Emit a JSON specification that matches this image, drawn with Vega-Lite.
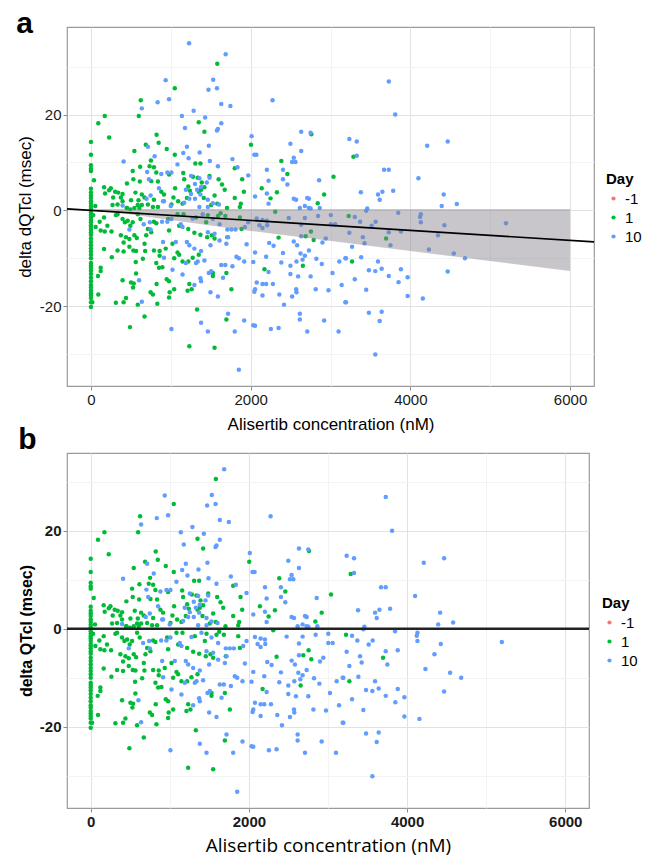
{
"$schema": "https://vega.github.io/schema/vega-lite/v6.json",
"background": "white",
"padding": {"left": 15, "top": 8, "right": 0, "bottom": 0},
"spacing": -9,
"config": {
  "font": "Liberation Sans",
  "view": {"stroke": "#9a9a9a", "strokeWidth": 1.2},
  "axis": {"domain": false, "tickColor": "#8a8a8a", "tickSize": 4, "labelColor": "#1a1a1a", "labelFontSize": 15, "labelPadding": 2, "titleColor": "#000000", "titleFontSize": 17, "titleFontWeight": "normal", "labelFlush": false},
  "legend": {"titleFontSize": 15, "titleFontWeight": "bold", "titleColor": "#000000", "labelFontSize": 15, "labelColor": "#000000", "symbolType": "circle", "symbolSize": 18, "rowPadding": 3, "titlePadding": 4}
},
"datasets": {
  "pts": [
{"c":0,"q":0,"Day":"-1"},
{"c":0,"q":14.3,"Day":"1"},{"c":0,"q":11.6,"Day":"1"},{"c":0,"q":9.4,"Day":"1"},{"c":0,"q":8.7,"Day":"1"},{"c":0,"q":8.2,"Day":"1"},{"c":0,"q":4.5,"Day":"1"},{"c":0,"q":3.7,"Day":"1"},{"c":0,"q":3.1,"Day":"1"},{"c":0,"q":2.6,"Day":"1"},{"c":0,"q":1.9,"Day":"1"},{"c":0,"q":1.4,"Day":"1"},{"c":0,"q":0.8,"Day":"1"},{"c":0,"q":0.3,"Day":"1"},
{"c":92,"q":18.2,"Day":"1"},{"c":173,"q":19.7,"Day":"1"},{"c":228,"q":15.2,"Day":"1"},{"c":38,"q":6.3,"Day":"1"},{"c":54,"q":0.9,"Day":"1"},{"c":164,"q":4.8,"Day":"1"},{"c":177,"q":3.5,"Day":"1"},{"c":228,"q":4.2,"Day":"1"},{"c":249,"q":4.6,"Day":"1"},{"c":303,"q":3.9,"Day":"1"},{"c":341,"q":3.7,"Day":"1"},{"c":278,"q":2.7,"Day":"1"},{"c":375,"q":2.7,"Day":"1"},{"c":396,"q":3.4,"Day":"1"},{"c":396,"q":1.9,"Day":"1"},{"c":270,"q":1.1,"Day":"1"},{"c":333,"q":1.2,"Day":"1"},{"c":447,"q":0.5,"Day":"1"},{"c":624,"q":23.0,"Day":"1"},{"c":599,"q":19.7,"Day":"1"},{"c":822,"q":15.8,"Day":"1"},{"c":848,"q":14.1,"Day":"1"},{"c":687,"q":13.7,"Day":"1"},{"c":544,"q":12.4,"Day":"1"},{"c":751,"q":10.4,"Day":"1"},{"c":734,"q":9.2,"Day":"1"},{"c":616,"q":9.1,"Day":"1"},{"c":523,"q":8.2,"Day":"1"},{"c":789,"q":9.0,"Day":"1"},{"c":818,"q":7.9,"Day":"1"},{"c":451,"q":5.6,"Day":"1"},{"c":531,"q":6.5,"Day":"1"},{"c":612,"q":6.0,"Day":"1"},{"c":755,"q":6.1,"Day":"1"},{"c":839,"q":6.0,"Day":"1"},{"c":557,"q":3.7,"Day":"1"},{"c":502,"q":2.1,"Day":"1"},{"c":595,"q":2.1,"Day":"1"},{"c":637,"q":3.3,"Day":"1"},{"c":671,"q":2.7,"Day":"1"},{"c":637,"q":1.1,"Day":"1"},{"c":586,"q":1.1,"Day":"1"},{"c":713,"q":1.2,"Day":"1"},{"c":789,"q":2.2,"Day":"1"},{"c":881,"q":3.9,"Day":"1"},{"c":839,"q":0.7,"Day":"1"},{"c":776,"q":0.7,"Day":"1"},{"c":451,"q":0.5,"Day":"1"},{"c":544,"q":0.5,"Day":"1"},{"c":607,"q":0.5,"Day":"1"},{"c":493,"q":0.2,"Day":"1"},
{"c":0,"q":-0.5,"Day":"1"},{"c":0,"q":-1.0,"Day":"1"},{"c":0,"q":-1.5,"Day":"1"},{"c":0,"q":-2.0,"Day":"1"},{"c":0,"q":-2.5,"Day":"1"},{"c":0,"q":-3.1,"Day":"1"},{"c":0,"q":-3.5,"Day":"1"},{"c":0,"q":-4.0,"Day":"1"},{"c":0,"q":-4.6,"Day":"1"},{"c":0,"q":-5.1,"Day":"1"},{"c":0,"q":-5.9,"Day":"1"},{"c":0,"q":-6.6,"Day":"1"},{"c":0,"q":-7.3,"Day":"1"},{"c":0,"q":-8.0,"Day":"1"},{"c":0,"q":-8.6,"Day":"1"},{"c":0,"q":-9.3,"Day":"1"},{"c":0,"q":-10.0,"Day":"1"},{"c":0,"q":-11.0,"Day":"1"},{"c":0,"q":-11.5,"Day":"1"},{"c":0,"q":-12.0,"Day":"1"},{"c":0,"q":-12.6,"Day":"1"},{"c":0,"q":-13.3,"Day":"1"},{"c":0,"q":-14.1,"Day":"1"},{"c":0,"q":-14.8,"Day":"1"},{"c":0,"q":-15.6,"Day":"1"},{"c":0,"q":-16.1,"Day":"1"},{"c":0,"q":-16.8,"Day":"1"},{"c":0,"q":-17.3,"Day":"1"},{"c":0,"q":-17.8,"Day":"1"},{"c":0,"q":-18.3,"Day":"1"},{"c":0,"q":-19.2,"Day":"1"},{"c":0,"q":-20.2,"Day":"1"},
{"c":29,"q":-1.0,"Day":"1"},{"c":109,"q":-2.4,"Day":"1"},{"c":164,"q":-1.5,"Day":"1"},{"c":59,"q":-3.5,"Day":"1"},{"c":122,"q":-4.2,"Day":"1"},{"c":173,"q":-4.4,"Day":"1"},{"c":206,"q":-3.2,"Day":"1"},{"c":257,"q":-4.4,"Day":"1"},{"c":312,"q":-1.0,"Day":"1"},{"c":333,"q":-0.8,"Day":"1"},{"c":396,"q":-1.8,"Day":"1"},{"c":426,"q":-2.5,"Day":"1"},{"c":460,"q":-2.2,"Day":"1"},{"c":375,"q":-5.2,"Day":"1"},{"c":409,"q":-6.7,"Day":"1"},{"c":439,"q":-5.6,"Day":"1"},{"c":481,"q":-6.0,"Day":"1"},{"c":544,"q":-5.2,"Day":"1"},{"c":574,"q":-5.8,"Day":"1"},{"c":493,"q":-3.2,"Day":"1"},{"c":523,"q":-2.5,"Day":"1"},{"c":586,"q":-0.8,"Day":"1"},{"c":620,"q":-1.8,"Day":"1"},{"c":692,"q":-5.2,"Day":"1"},{"c":671,"q":-7.0,"Day":"1"},{"c":713,"q":-3.9,"Day":"1"},{"c":755,"q":-4.6,"Day":"1"},{"c":789,"q":-2.4,"Day":"1"},{"c":818,"q":-2.7,"Day":"1"},{"c":164,"q":-8.1,"Day":"1"},{"c":333,"q":-8.4,"Day":"1"},{"c":409,"q":-8.6,"Day":"1"},{"c":481,"q":-7.6,"Day":"1"},{"c":531,"q":-8.4,"Day":"1"},{"c":565,"q":-8.5,"Day":"1"},{"c":679,"q":-8.5,"Day":"1"},{"c":789,"q":-8.4,"Day":"1"},{"c":860,"q":-8.5,"Day":"1"},{"c":860,"q":-9.5,"Day":"1"},{"c":650,"q":-10.1,"Day":"1"},{"c":561,"q":-10.8,"Day":"1"},{"c":818,"q":-11.0,"Day":"1"},{"c":261,"q":-9.8,"Day":"1"},{"c":122,"q":-12.0,"Day":"1"},{"c":122,"q":-12.7,"Day":"1"},{"c":88,"q":-13.7,"Day":"1"},{"c":565,"q":-13.2,"Day":"1"},{"c":396,"q":-14.6,"Day":"1"},{"c":502,"q":-15.1,"Day":"1"},{"c":536,"q":-15.3,"Day":"1"},{"c":527,"q":-16.1,"Day":"1"},{"c":822,"q":-15.4,"Day":"1"},{"c":747,"q":-17.1,"Day":"1"},{"c":776,"q":-17.6,"Day":"1"},{"c":92,"q":-17.6,"Day":"1"},{"c":17,"q":-19.2,"Day":"1"},{"c":312,"q":-19.3,"Day":"1"},{"c":409,"q":-19.2,"Day":"1"},{"c":439,"q":-18.3,"Day":"1"},{"c":586,"q":-19.7,"Day":"1"},{"c":831,"q":-19.5,"Day":"1"},{"c":671,"q":-22.2,"Day":"1"},{"c":489,"q":-24.4,"Day":"1"},{"c":852,"q":-12.0,"Day":"1"},{"c":894,"q":-11.9,"Day":"1"},
{"c":1582,"q":30.6,"Day":"1"},{"c":1050,"q":25.5,"Day":"1"},{"c":1350,"q":18.4,"Day":"1"},{"c":1421,"q":16.4,"Day":"1"},{"c":949,"q":12.8,"Day":"1"},{"c":1050,"q":11.6,"Day":"1"},{"c":1307,"q":9.8,"Day":"1"},{"c":1371,"q":9.8,"Day":"1"},{"c":1801,"q":8.8,"Day":"1"},{"c":2004,"q":13.7,"Day":"1"},{"c":978,"q":7.5,"Day":"1"},{"c":1156,"q":7.8,"Day":"1"},{"c":1168,"q":6.5,"Day":"1"},{"c":1278,"q":7.0,"Day":"1"},{"c":1337,"q":6.8,"Day":"1"},{"c":1485,"q":7.2,"Day":"1"},{"c":1599,"q":6.5,"Day":"1"},{"c":1894,"q":6.5,"Day":"1"},{"c":1388,"q":5.8,"Day":"1"},{"c":1641,"q":5.4,"Day":"1"},{"c":1675,"q":4.3,"Day":"1"},{"c":1054,"q":4.6,"Day":"1"},{"c":1219,"q":5.0,"Day":"1"},{"c":1240,"q":4.1,"Day":"1"},{"c":1350,"q":3.9,"Day":"1"},{"c":1379,"q":4.3,"Day":"1"},{"c":1421,"q":4.8,"Day":"1"},{"c":1915,"q":3.9,"Day":"1"},{"c":1033,"q":2.7,"Day":"1"},{"c":1092,"q":1.9,"Day":"1"},{"c":1202,"q":2.6,"Day":"1"},{"c":1413,"q":2.6,"Day":"1"},{"c":1548,"q":3.1,"Day":"1"},{"c":1801,"q":2.6,"Day":"1"},{"c":1008,"q":1.2,"Day":"1"},{"c":1147,"q":1.4,"Day":"1"},{"c":1582,"q":1.4,"Day":"1"},{"c":1704,"q":0.5,"Day":"1"},{"c":1865,"q":0.7,"Day":"1"},{"c":1506,"q":1.1,"Day":"1"},{"c":1877,"q":1.4,"Day":"1"},{"c":915,"q":3.3,"Day":"1"},
{"c":966,"q":-1.8,"Day":"1"},{"c":1084,"q":-0.8,"Day":"1"},{"c":1160,"q":-0.8,"Day":"1"},{"c":1316,"q":-1.5,"Day":"1"},{"c":1443,"q":-2.5,"Day":"1"},{"c":1464,"q":-1.0,"Day":"1"},{"c":1590,"q":-1.2,"Day":"1"},{"c":1683,"q":-1.2,"Day":"1"},{"c":1865,"q":-1.5,"Day":"1"},{"c":1886,"q":-3.9,"Day":"1"},{"c":978,"q":-4.2,"Day":"1"},{"c":1105,"q":-3.2,"Day":"1"},{"c":1219,"q":-3.9,"Day":"1"},{"c":1295,"q":-4.7,"Day":"1"},{"c":1371,"q":-5.1,"Day":"1"},{"c":1455,"q":-5.6,"Day":"1"},{"c":1514,"q":-5.2,"Day":"1"},{"c":1548,"q":-5.9,"Day":"1"},{"c":1708,"q":-5.6,"Day":"1"},{"c":1021,"q":-7.0,"Day":"1"},{"c":936,"q":-8.0,"Day":"1"},{"c":1084,"q":-8.8,"Day":"1"},{"c":1042,"q":-10.0,"Day":"1"},{"c":1105,"q":-9.3,"Day":"1"},{"c":1147,"q":-10.7,"Day":"1"},{"c":1219,"q":-10.7,"Day":"1"},{"c":1274,"q":-9.9,"Day":"1"},{"c":1350,"q":-9.3,"Day":"1"},{"c":978,"q":-14.8,"Day":"1"},{"c":1042,"q":-16.5,"Day":"1"},{"c":986,"q":-17.1,"Day":"1"},{"c":978,"q":-18.2,"Day":"1"},{"c":1232,"q":-15.4,"Day":"1"},{"c":1210,"q":-16.8,"Day":"1"},{"c":1261,"q":-16.5,"Day":"1"},{"c":1759,"q":-16.5,"Day":"1"},{"c":1527,"q":-13.1,"Day":"1"},{"c":1527,"q":-13.7,"Day":"1"},{"c":1696,"q":-13.1,"Day":"1"},{"c":949,"q":-14.4,"Day":"1"},{"c":1329,"q":-20.7,"Day":"1"},{"c":1696,"q":-22.8,"Day":"1"},{"c":1232,"q":-28.4,"Day":"1"},{"c":1548,"q":-28.7,"Day":"1"},{"c":1624,"q":-0.6,"Day":"1"},
{"c":2760,"q":15.9,"Day":"1"},{"c":2384,"q":10.3,"Day":"1"},{"c":2460,"q":7.6,"Day":"1"},{"c":3038,"q":7.0,"Day":"1"},{"c":2139,"q":4.6,"Day":"1"},{"c":2329,"q":3.8,"Day":"1"},{"c":2249,"q":2.5,"Day":"1"},{"c":2920,"q":3.3,"Day":"1"},{"c":2840,"q":1.5,"Day":"1"},
{"c":2308,"q":-0.3,"Day":"1"},{"c":2350,"q":-5.7,"Day":"1"},{"c":2688,"q":-5.4,"Day":"1"},{"c":2755,"q":-4.4,"Day":"1"},{"c":2789,"q":-6.2,"Day":"1"},{"c":2654,"q":-11.6,"Day":"1"},{"c":2173,"q":-12.3,"Day":"1"},
{"c":3287,"q":11.2,"Day":"1"},{"c":3228,"q":-1.2,"Day":"1"},{"c":3696,"q":-5.9,"Day":"1"},{"c":3270,"q":-10.7,"Day":"1"},
{"c":835,"q":22.6,"Day":"10"},{"c":637,"q":21.3,"Day":"10"},{"c":713,"q":13.3,"Day":"10"},{"c":409,"q":10.2,"Day":"10"},{"c":797,"q":11.3,"Day":"10"},{"c":704,"q":8.0,"Day":"10"},{"c":726,"q":6.5,"Day":"10"},{"c":881,"q":7.6,"Day":"10"},{"c":852,"q":4.6,"Day":"10"},{"c":747,"q":3.1,"Day":"10"},{"c":696,"q":2.4,"Day":"10"},{"c":396,"q":1.0,"Day":"10"},{"c":903,"q":1.9,"Day":"10"},
{"c":662,"q":-2.9,"Day":"10"},{"c":738,"q":-2.5,"Day":"10"},{"c":890,"q":-2.4,"Day":"10"},{"c":481,"q":-4.0,"Day":"10"},{"c":747,"q":-4.0,"Day":"10"},{"c":903,"q":-6.6,"Day":"10"},{"c":915,"q":-9.9,"Day":"10"},{"c":603,"q":-14.6,"Day":"10"},{"c":637,"q":-19.1,"Day":"10"},
{"c":1687,"q":32.6,"Day":"10"},{"c":1531,"q":27.3,"Day":"10"},{"c":1472,"q":25.2,"Day":"10"},{"c":1578,"q":25.5,"Day":"10"},{"c":936,"q":27.2,"Day":"10"},{"c":978,"q":23.2,"Day":"10"},{"c":1632,"q":22.2,"Day":"10"},{"c":1746,"q":21.8,"Day":"10"},{"c":1286,"q":20.8,"Day":"10"},{"c":1139,"q":19.7,"Day":"10"},{"c":1430,"q":19.4,"Day":"10"},{"c":1177,"q":17.2,"Day":"10"},{"c":1578,"q":16.7,"Day":"10"},{"c":1590,"q":17.0,"Day":"10"},{"c":1632,"q":18.2,"Day":"10"},{"c":1202,"q":13.3,"Day":"10"},{"c":1476,"q":13.5,"Day":"10"},{"c":1156,"q":12.0,"Day":"10"},{"c":1362,"q":12.1,"Day":"10"},{"c":1223,"q":10.9,"Day":"10"},{"c":1084,"q":9.6,"Day":"10"},{"c":1489,"q":10.3,"Day":"10"},{"c":1590,"q":9.2,"Day":"10"},{"c":1772,"q":10.7,"Day":"10"},{"c":1835,"q":9.0,"Day":"10"},{"c":2012,"q":15.5,"Day":"10"},{"c":2046,"q":11.6,"Day":"10"},{"c":957,"q":7.9,"Day":"10"},{"c":1008,"q":7.9,"Day":"10"},{"c":1253,"q":7.2,"Day":"10"},{"c":1358,"q":6.7,"Day":"10"},{"c":1485,"q":6.8,"Day":"10"},{"c":1303,"q":5.5,"Day":"10"},{"c":1379,"q":4.9,"Day":"10"},{"c":1451,"q":5.8,"Day":"10"},{"c":1189,"q":4.3,"Day":"10"},{"c":1253,"q":3.4,"Day":"10"},{"c":1371,"q":3.3,"Day":"10"},{"c":1329,"q":4.3,"Day":"10"},{"c":1232,"q":2.4,"Day":"10"},{"c":1303,"q":2.4,"Day":"10"},{"c":915,"q":1.9,"Day":"10"},{"c":1464,"q":2.2,"Day":"10"},{"c":1527,"q":1.5,"Day":"10"},{"c":1603,"q":1.2,"Day":"10"},{"c":1358,"q":0.7,"Day":"10"},{"c":1464,"q":0.7,"Day":"10"},{"c":1168,"q":1.6,"Day":"10"},{"c":999,"q":0.9,"Day":"10"},{"c":1970,"q":7.3,"Day":"10"},
{"c":957,"q":-2.4,"Day":"10"},{"c":1008,"q":-1.8,"Day":"10"},{"c":1126,"q":-2.9,"Day":"10"},{"c":1147,"q":-3.5,"Day":"10"},{"c":1274,"q":-1.7,"Day":"10"},{"c":1400,"q":-0.8,"Day":"10"},{"c":1527,"q":-1.8,"Day":"10"},{"c":1611,"q":-2.9,"Day":"10"},{"c":1708,"q":-4.0,"Day":"10"},{"c":1759,"q":-4.0,"Day":"10"},{"c":1810,"q":-4.0,"Day":"10"},{"c":1928,"q":-3.5,"Day":"10"},{"c":1949,"q":-7.1,"Day":"10"},{"c":1970,"q":-2.5,"Day":"10"},{"c":1063,"q":-6.6,"Day":"10"},{"c":1202,"q":-6.6,"Day":"10"},{"c":1232,"q":-7.3,"Day":"10"},{"c":1295,"q":-8.0,"Day":"10"},{"c":1379,"q":-8.5,"Day":"10"},{"c":1464,"q":-4.6,"Day":"10"},{"c":1497,"q":-7.3,"Day":"10"},{"c":1548,"q":-4.9,"Day":"10"},{"c":1611,"q":-6.3,"Day":"10"},{"c":1696,"q":-7.0,"Day":"10"},{"c":1717,"q":-5.6,"Day":"10"},{"c":1337,"q":-10.7,"Day":"10"},{"c":1316,"q":-11.0,"Day":"10"},{"c":1189,"q":-11.0,"Day":"10"},{"c":1421,"q":-10.5,"Day":"10"},{"c":1632,"q":-11.4,"Day":"10"},{"c":1683,"q":-11.4,"Day":"10"},{"c":1772,"q":-11.7,"Day":"10"},{"c":1822,"q":-9.7,"Day":"10"},{"c":1852,"q":-10.0,"Day":"10"},{"c":1919,"q":-10.7,"Day":"10"},{"c":2033,"q":-10.8,"Day":"10"},{"c":1021,"q":-12.4,"Day":"10"},{"c":1147,"q":-13.4,"Day":"10"},{"c":1476,"q":-13.1,"Day":"10"},{"c":1506,"q":-12.7,"Day":"10"},{"c":1654,"q":-14.1,"Day":"10"},{"c":1371,"q":-14.2,"Day":"10"},{"c":1379,"q":-14.8,"Day":"10"},{"c":1295,"q":-15.6,"Day":"10"},{"c":1497,"q":-17.1,"Day":"10"},{"c":1590,"q":-18.0,"Day":"10"},{"c":2046,"q":-17.0,"Day":"10"},{"c":1717,"q":-21.6,"Day":"10"},{"c":1379,"q":-23.5,"Day":"10"},{"c":1464,"q":-25.3,"Day":"10"},{"c":1801,"q":-25.3,"Day":"10"},{"c":1919,"q":-23.0,"Day":"10"},{"c":2033,"q":-24.0,"Day":"10"},{"c":1008,"q":-24.8,"Day":"10"},{"c":1852,"q":-33.3,"Day":"10"},
{"c":2274,"q":23.0,"Day":"10"},{"c":2633,"q":16.4,"Day":"10"},{"c":2751,"q":16.2,"Day":"10"},{"c":2498,"q":13.9,"Day":"10"},{"c":2633,"q":12.4,"Day":"10"},{"c":2072,"q":11.6,"Day":"10"},{"c":2540,"q":11.0,"Day":"10"},{"c":2519,"q":10.1,"Day":"10"},{"c":2561,"q":10.1,"Day":"10"},{"c":2203,"q":8.5,"Day":"10"},{"c":2405,"q":8.5,"Day":"10"},{"c":2224,"q":6.2,"Day":"10"},{"c":2405,"q":6.5,"Day":"10"},{"c":2460,"q":5.4,"Day":"10"},{"c":2857,"q":6.3,"Day":"10"},{"c":2055,"q":2.9,"Day":"10"},{"c":2203,"q":3.5,"Day":"10"},{"c":2224,"q":1.4,"Day":"10"},{"c":2540,"q":2.4,"Day":"10"},{"c":2570,"q":2.2,"Day":"10"},{"c":2709,"q":2.6,"Day":"10"},{"c":2730,"q":2.4,"Day":"10"},{"c":2679,"q":0.9,"Day":"10"},{"c":2730,"q":0.5,"Day":"10"},{"c":2751,"q":0.4,"Day":"10"},{"c":2865,"q":0.5,"Day":"10"},{"c":2616,"q":0.5,"Day":"10"},
{"c":2477,"q":-1.6,"Day":"10"},{"c":2679,"q":-1.6,"Day":"10"},{"c":2844,"q":-1.2,"Day":"10"},{"c":3004,"q":-1.0,"Day":"10"},{"c":2148,"q":-2.0,"Day":"10"},{"c":2203,"q":-2.2,"Day":"10"},{"c":2110,"q":-3.1,"Day":"10"},{"c":2148,"q":-3.7,"Day":"10"},{"c":2207,"q":-3.1,"Day":"10"},{"c":2633,"q":-3.0,"Day":"10"},{"c":3004,"q":-2.9,"Day":"10"},{"c":3059,"q":-2.9,"Day":"10"},{"c":2633,"q":-5.4,"Day":"10"},{"c":2540,"q":-6.5,"Day":"10"},{"c":2582,"q":-7.3,"Day":"10"},{"c":2232,"q":-6.8,"Day":"10"},{"c":2287,"q":-7.4,"Day":"10"},{"c":2730,"q":-8.4,"Day":"10"},{"c":2625,"q":-9.0,"Day":"10"},{"c":2679,"q":-9.5,"Day":"10"},{"c":2899,"q":-6.7,"Day":"10"},{"c":2941,"q":-5.9,"Day":"10"},{"c":2055,"q":-8.8,"Day":"10"},{"c":2194,"q":-9.7,"Day":"10"},{"c":2405,"q":-8.9,"Day":"10"},{"c":2650,"q":-10.3,"Day":"10"},{"c":2823,"q":-10.1,"Day":"10"},{"c":2574,"q":-10.7,"Day":"10"},{"c":2384,"q":-10.9,"Day":"10"},{"c":2498,"q":-11.6,"Day":"10"},{"c":2891,"q":-11.2,"Day":"10"},{"c":3110,"q":-10.7,"Day":"10"},{"c":3186,"q":-10.0,"Day":"10"},{"c":2224,"q":-12.9,"Day":"10"},{"c":2498,"q":-13.3,"Day":"10"},{"c":2595,"q":-13.8,"Day":"10"},{"c":2751,"q":-13.8,"Day":"10"},{"c":3025,"q":-13.1,"Day":"10"},{"c":2076,"q":-15.1,"Day":"10"},{"c":2148,"q":-15.4,"Day":"10"},{"c":2194,"q":-15.4,"Day":"10"},{"c":2279,"q":-15.4,"Day":"10"},{"c":2055,"q":-16.5,"Day":"10"},{"c":2570,"q":-16.5,"Day":"10"},{"c":2574,"q":-17.1,"Day":"10"},{"c":2519,"q":-18.0,"Day":"10"},{"c":2359,"q":-17.6,"Day":"10"},{"c":2148,"q":-17.8,"Day":"10"},{"c":2815,"q":-16.5,"Day":"10"},{"c":2975,"q":-16.7,"Day":"10"},{"c":3140,"q":-15.6,"Day":"10"},{"c":3186,"q":-19.2,"Day":"10"},{"c":2418,"q":-19.7,"Day":"10"},{"c":2616,"q":-21.6,"Day":"10"},{"c":2616,"q":-22.8,"Day":"10"},{"c":2920,"q":-23.0,"Day":"10"},{"c":2055,"q":-24.1,"Day":"10"},{"c":2253,"q":-24.8,"Day":"10"},{"c":2350,"q":-24.6,"Day":"10"},{"c":2709,"q":-25.3,"Day":"10"},{"c":3101,"q":-25.3,"Day":"10"},{"c":2076,"q":-1.7,"Day":"10"},
{"c":3730,"q":26.9,"Day":"10"},{"c":3810,"q":20.0,"Day":"10"},{"c":3236,"q":14.9,"Day":"10"},{"c":3329,"q":14.4,"Day":"10"},{"c":4211,"q":13.5,"Day":"10"},{"c":4468,"q":14.4,"Day":"10"},{"c":3329,"q":11.4,"Day":"10"},{"c":3671,"q":8.5,"Day":"10"},{"c":3730,"q":8.5,"Day":"10"},{"c":4101,"q":6.7,"Day":"10"},{"c":3380,"q":3.8,"Day":"10"},{"c":3595,"q":3.3,"Day":"10"},{"c":3650,"q":3.9,"Day":"10"},{"c":3785,"q":4.1,"Day":"10"},{"c":3616,"q":2.2,"Day":"10"},{"c":4418,"q":3.3,"Day":"10"},{"c":4582,"q":1.3,"Day":"10"},{"c":4393,"q":0.9,"Day":"10"},{"c":3460,"q":0.4,"Day":"10"},
{"c":3447,"q":-0.1,"Day":"10"},{"c":3848,"q":-0.5,"Day":"10"},{"c":3304,"q":-1.4,"Day":"10"},{"c":3371,"q":-2.4,"Day":"10"},{"c":3515,"q":-3.2,"Day":"10"},{"c":3565,"q":-2.4,"Day":"10"},{"c":4131,"q":-0.8,"Day":"10"},{"c":4122,"q":-1.4,"Day":"10"},{"c":4131,"q":-2.5,"Day":"10"},{"c":4426,"q":-3.1,"Day":"10"},{"c":5198,"q":-2.7,"Day":"10"},{"c":3236,"q":-4.7,"Day":"10"},{"c":3730,"q":-4.6,"Day":"10"},{"c":3882,"q":-4.4,"Day":"10"},{"c":3405,"q":-5.6,"Day":"10"},{"c":3426,"q":-6.9,"Day":"10"},{"c":3751,"q":-7.3,"Day":"10"},{"c":4346,"q":-5.2,"Day":"10"},{"c":3270,"q":-7.6,"Day":"10"},{"c":3194,"q":-10.0,"Day":"10"},{"c":3384,"q":-9.8,"Day":"10"},{"c":3595,"q":-10.7,"Day":"10"},{"c":3481,"q":-12.5,"Day":"10"},{"c":3561,"q":-12.7,"Day":"10"},{"c":3641,"q":-12.2,"Day":"10"},{"c":3882,"q":-12.3,"Day":"10"},{"c":4232,"q":-8.2,"Day":"10"},{"c":4544,"q":-9.0,"Day":"10"},{"c":4684,"q":-10.0,"Day":"10"},{"c":4468,"q":-12.8,"Day":"10"},{"c":3304,"q":-14.4,"Day":"10"},{"c":3730,"q":-13.7,"Day":"10"},{"c":3966,"q":-14.0,"Day":"10"},{"c":3852,"q":-15.0,"Day":"10"},{"c":3447,"q":-16.6,"Day":"10"},{"c":3966,"q":-17.9,"Day":"10"},{"c":4156,"q":-18.4,"Day":"10"},{"c":3194,"q":-19.2,"Day":"10"},{"c":3481,"q":-21.4,"Day":"10"},{"c":3641,"q":-21.2,"Day":"10"},{"c":3616,"q":-23.1,"Day":"10"},{"c":3561,"q":-30.1,"Day":"10"}
  ],
  "extra": [{"c":1229,"q":34.9,"Day":"10"}],
  "band": [{"c":0,"q":0.3,"q2":0.3},{"c":2000,"q":-4.3,"q2":0.3},{"c":6000,"q":-12.7,"q2":0.3}],
  "fit": [{"c":-300,"q":0.31},{"c":6300,"q":-6.6}],
  "zero": [{"q":0}]
},
"resolve": {"legend": {"color": "independent"}},
"vconcat": [
  {
    "title": {"text": "a", "anchor": "start", "frame": "bounds", "fontSize": 30, "fontWeight": "bold", "color": "#000000", "offset": -12},
    "width": 527,
    "height": 359,
    "encoding": {
      "x": {"field": "c", "type": "quantitative", "title": "Alisertib concentration (nM)",
        "scale": {"domain": [-300, 6300], "nice": false, "zero": false},
        "axis": {"values": [0,1000,2000,3000,4000,5000,6000], "labelExpr": "datum.value % 2000 === 0 ? '' + datum.value : ''",
          "tickOpacity": {"condition": {"test": "datum.value % 2000 === 0", "value": 1}, "value": 0},
          "gridColor": {"condition": {"test": "datum.value % 2000 === 0", "value": "#e2e2e2"}, "value": "#f3f3f3"},
          "titlePadding": 9}},
      "y": {"field": "q", "type": "quantitative", "title": "delta dQTcl (msec)",
        "scale": {"domain": [-36.7, 38.3], "nice": false, "zero": false},
        "axis": {"values": [-30,-20,-10,0,10,20,30], "labelExpr": "datum.value % 20 === 0 ? '' + datum.value : ''",
          "tickOpacity": {"condition": {"test": "datum.value % 20 === 0", "value": 1}, "value": 0},
          "gridColor": {"condition": {"test": "datum.value % 20 === 0", "value": "#e2e2e2"}, "value": "#f3f3f3"},
          "titlePadding": 5}}
    },
    "layer": [
      {"data": {"name": "pts"}, "mark": {"type": "circle", "size": 20, "opacity": 1},
       "encoding": {"color": {"field": "Day", "type": "nominal", "scale": {"domain": ["-1","1","10"], "range": ["#F8766D","#00BA38","#619CFF"]},
         "legend": {"orient": "none", "legendX": 539, "legendY": 145, "title": "Day"}}}},
      {"data": {"name": "extra"}, "mark": {"type": "circle", "size": 20, "opacity": 1},
       "encoding": {"color": {"field": "Day", "type": "nominal", "scale": {"domain": ["-1","1","10"], "range": ["#F8766D","#00BA38","#619CFF"]}}}},
      {"data": {"name": "band"}, "mark": {"type": "area", "color": "#858189", "opacity": 0.45},
       "encoding": {"y2": {"field": "q2"}}},
      {"data": {"name": "fit"}, "mark": {"type": "line", "color": "#000000", "strokeWidth": 1.6}, "encoding": {}}
    ]
  },
  {
    "title": {"text": "b", "anchor": "start", "frame": "bounds", "fontSize": 30, "fontWeight": "bold", "color": "#000000", "offset": -2},
    "width": 522,
    "height": 355,
    "encoding": {
      "x": {"field": "c", "type": "quantitative", "title": "Alisertib concentration (nM)",
        "scale": {"domain": [-300, 6300], "nice": false, "zero": false},
        "axis": {"values": [0,1000,2000,3000,4000,5000,6000], "labelExpr": "datum.value % 2000 === 0 ? '' + datum.value : ''",
          "tickOpacity": {"condition": {"test": "datum.value % 2000 === 0", "value": 1}, "value": 0},
          "gridColor": {"condition": {"test": "datum.value % 2000 === 0", "value": "#e2e2e2"}, "value": "#f3f3f3"},
          "labelFontWeight": "bold", "titleFontSize": 19, "titleFont": "Open Sans", "titlePadding": 7}},
      "y": {"field": "q", "type": "quantitative", "title": "delta QTcl (msec)",
        "scale": {"domain": [-36.6, 35.9], "nice": false, "zero": false},
        "axis": {"values": [-30,-20,-10,0,10,20,30], "labelExpr": "datum.value % 20 === 0 ? '' + datum.value : ''",
          "tickOpacity": {"condition": {"test": "datum.value % 20 === 0", "value": 1}, "value": 0},
          "gridColor": {"condition": {"test": "datum.value % 20 === 0", "value": "#e2e2e2"}, "value": "#f3f3f3"},
          "labelFontWeight": "bold", "titleFontWeight": "bold", "titleFontSize": 16, "titlePadding": 5}}
    },
    "layer": [
      {"data": {"name": "pts"}, "mark": {"type": "circle", "size": 20, "opacity": 1},
       "encoding": {"color": {"field": "Day", "type": "nominal", "scale": {"domain": ["-1","1","10"], "range": ["#F8766D","#00BA38","#619CFF"]},
         "legend": {"orient": "none", "legendX": 535, "legendY": 143, "title": "Day"}}}},
      {"data": {"name": "zero"}, "mark": {"type": "rule", "color": "#222222", "strokeWidth": 2.5}, "encoding": {"x": null}}
    ]
  }
]
}
